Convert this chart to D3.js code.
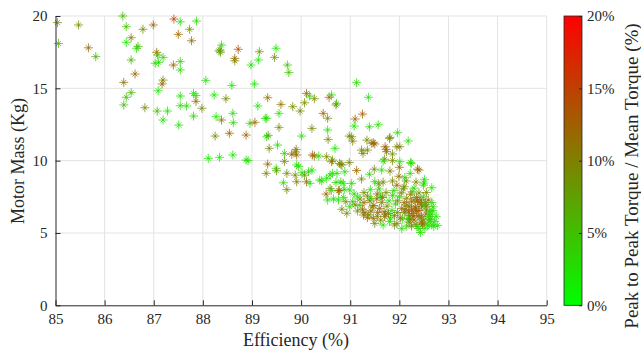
<!DOCTYPE html>
<html>
<head>
<meta charset="utf-8">
<script src="https://cdn.jsdelivr.net/npm/d3@7"></script>
<style>
  html, body { margin: 0; padding: 0; background: #fff; }
  svg text { font-family: "Liberation Serif", "DejaVu Serif", serif; fill: #262626; }
</style>
</head>
<body>
<div id="chart"></div>
<script>
// efficiency (%), motor mass (kg), torque ripple (%)
const efficiency = [
  85.04, 85.06, 85.47, 85.67, 85.82, 86.37, 86.44, 86.44, 86.54, 86.54,
  86.65, 86.68, 86.62, 86.39, 86.44, 86.54, 86.39, 86.82, 86.78, 86.99,
  87.06, 87.08, 87.03, 87.10, 87.19, 87.19, 87.17, 87.09, 87.07, 87.28,
  87.19, 87.40, 87.41, 87.50, 87.54, 87.54, 87.54, 87.54, 87.54, 87.51,
  87.67, 87.73, 87.77, 87.81, 87.86, 87.86, 87.81, 87.87, 87.98, 88.06,
  88.38, 88.35, 88.36, 88.33, 88.72, 88.65, 88.65, 89.15, 89.49, 89.46,
  89.13, 88.98, 89.72, 89.75, 88.59, 89.05, 88.23, 88.47, 88.27, 88.38,
  88.61, 88.62, 88.25, 88.54, 88.88, 88.96, 89.06, 89.12, 89.32, 89.27,
  89.30, 89.55, 89.59, 89.55, 89.30, 89.33, 89.52, 89.35, 89.83, 89.98,
  90.07, 90.11, 90.17, 90.27, 90.01, 90.22, 89.90, 89.88, 90.57, 90.62,
  90.72, 90.71, 91.13, 91.37, 90.45, 90.54, 91.25, 91.10, 91.08, 91.39,
  91.57, 90.54, 90.55, 90.69, 91.03, 91.05, 91.34, 91.44, 91.50, 91.71,
  91.81, 91.96, 92.18, 91.74, 91.86, 92.01, 92.24, 91.70,
  88.34, 88.11, 88.61, 88.88, 88.92, 89.66, 89.66, 89.81, 89.91, 90.23,
  90.27, 90.36, 90.52, 90.64, 90.78, 90.83, 89.32, 89.29, 89.49, 89.50,
  89.71, 89.64, 89.71, 89.91, 89.95, 89.88, 90.02, 89.91, 90.11, 90.18,
  90.07, 90.15, 90.22, 90.38, 90.42, 90.52, 90.59, 90.73, 90.81, 90.59,
  90.51, 90.76, 90.54, 90.76, 90.86,
  91.80, 90.98, 91.47, 91.73, 91.95, 91.35, 91.23, 91.26, 91.67, 91.86,
  92.01, 92.00, 92.23, 92.37, 91.49, 91.64, 91.81, 91.13, 90.98, 90.81,
  90.62, 90.89, 91.39, 90.64, 91.99, 92.11, 92.22, 92.51, 92.66, 90.71,
  90.86, 91.03, 91.23, 91.50, 91.67, 91.86, 92.14, 92.34, 92.49, 90.62,
  90.78, 90.88, 90.99, 91.08, 91.28, 91.41, 91.59, 91.73, 91.89, 92.04,
  92.23, 92.40, 92.49, 92.59, 90.66, 90.91, 91.05, 91.20, 91.28, 91.40,
  91.54, 91.64, 91.79, 91.96, 92.10, 92.25, 92.37, 92.53, 92.66, 92.75,
  92.78, 92.66, 92.43, 92.52, 91.56, 91.69, 91.42, 91.35, 91.62, 91.82,
  91.67, 91.96, 92.06, 92.19, 92.28, 92.35, 92.45, 92.54, 92.61, 92.34,
  92.25, 92.15, 91.95, 91.15, 90.99, 90.83, 90.93, 91.25, 91.27, 91.47,
  91.50, 92.47, 92.62, 92.69, 92.32, 92.15, 92.46, 92.40,
  91.45, 91.60, 91.75, 91.85, 92.05, 92.20, 92.40, 92.55, 92.65, 92.50,
  92.30, 92.40, 92.60, 92.70, 92.20, 92.10, 91.90, 91.80, 91.70, 91.55,
  91.30, 91.20, 91.10, 92.35, 92.55, 92.30, 92.10, 91.95, 91.55, 91.35,
  91.15, 92.00, 92.15, 92.45, 92.25, 92.38, 92.72, 92.58, 92.45, 92.20,
  92.05, 91.90,
  92.28, 92.42, 92.33, 92.52, 92.18, 92.60, 92.36, 92.48, 92.12, 92.30,
  91.92, 91.78, 91.62, 91.48, 91.38, 92.68, 92.56, 92.44, 92.26, 91.66,
  92.08, 92.22, 92.50, 92.64, 92.40, 91.86, 91.72, 91.58, 91.42, 92.02
];
const mass = [
  19.54, 18.10, 19.38, 17.80, 17.19, 20.00, 19.26, 18.18, 18.50, 16.96,
  17.77, 17.90, 15.99, 15.41, 14.38, 14.70, 13.85, 13.66, 19.08, 19.38,
  17.49, 17.30, 16.73, 16.80, 17.14, 15.57, 15.30, 14.83, 13.43, 13.43,
  12.81, 16.61, 19.79, 18.73, 19.60, 16.85, 16.27, 14.47, 13.80, 12.46,
  13.78, 19.08, 18.29, 14.65, 14.50, 14.10, 13.08, 19.65, 13.62, 15.55,
  17.99, 17.65, 17.50, 17.58, 17.70, 17.07, 16.90, 17.53, 17.77, 17.14,
  16.96, 16.61, 16.61, 16.10, 15.20, 15.30, 14.54, 14.28, 13.04, 12.81,
  13.27, 12.62, 11.70, 11.89, 11.77, 12.58, 12.65, 13.78, 14.35, 12.93,
  12.93, 13.27, 13.89, 12.30, 11.65, 11.75, 11.08, 10.85, 13.73, 13.43,
  14.00, 14.65, 14.47, 14.28, 11.70, 12.23, 10.78, 10.60, 14.38, 14.54,
  13.96, 13.85, 15.39, 14.38, 13.27, 12.93, 13.22, 12.88, 12.39, 12.34,
  12.48, 12.12, 11.47, 10.85, 11.65, 11.35, 11.42, 11.20, 11.15, 10.96,
  11.61, 11.93, 11.36, 10.62, 10.46, 10.96, 9.81, 10.10,
  10.23, 10.16, 10.39, 10.04, 10.00, 10.50, 9.95, 10.44, 10.39, 10.39,
  10.32, 10.32, 10.27, 10.04, 9.81, 9.70, 9.76, 9.12, 9.47, 9.30,
  9.12, 8.47, 8.00, 9.70, 9.60, 9.00, 9.16, 8.54, 8.54, 8.43,
  9.00, 9.23, 9.35, 8.66, 8.60, 8.78, 9.00, 9.12, 8.54, 8.08,
  7.69, 7.92, 7.28, 7.28, 7.46,
  11.54, 11.70, 11.24, 10.78, 10.96, 10.73, 10.73, 10.50, 9.97, 10.00,
  9.93, 9.54, 9.88, 9.41, 9.41, 9.35, 9.28, 9.32, 9.87, 9.75,
  9.93, 9.23, 9.06, 9.12, 8.92, 8.82, 9.12, 8.71, 8.13, 8.49,
  8.43, 8.43, 8.73, 8.54, 8.52, 8.59, 8.59, 8.52, 8.31, 7.95,
  7.93, 8.02, 7.97, 7.70, 7.79, 7.99, 8.04, 7.79, 7.93, 7.77,
  7.68, 7.77, 7.50, 7.28, 7.36, 7.16, 7.16, 7.35, 7.10, 7.22,
  7.35, 7.10, 7.22, 7.22, 7.10, 7.16, 7.22, 7.10, 7.10, 6.15,
  5.52, 5.57, 5.03, 5.32, 6.41, 6.47, 6.52, 6.06, 5.89, 6.03,
  5.55, 6.41, 5.95, 6.47, 6.15, 6.52, 6.15, 6.31, 5.97, 5.60,
  5.48, 5.48, 5.66, 6.52, 6.81, 6.64, 6.36, 6.64, 6.24, 6.01,
  5.66, 5.57, 6.47, 6.81, 6.79, 6.93, 6.81, 9.35,
  6.80, 6.70, 6.85, 6.55, 6.70, 6.85, 6.55, 6.60, 6.30, 5.90,
  5.90, 5.30, 5.75, 5.45, 6.20, 6.40, 6.20, 5.80, 6.15, 6.15,
  6.40, 6.90, 6.95, 7.45, 7.80, 8.10, 8.20, 8.30, 7.70, 7.55,
  7.50, 7.50, 7.40, 6.95, 6.60, 6.20, 5.80, 5.50, 5.75, 5.75,
  5.30, 5.55,
  6.35, 6.05, 6.70, 6.95, 6.00, 6.15, 5.45, 5.65, 6.60, 7.30,
  7.00, 6.35, 7.55, 6.90, 6.25, 6.55, 6.85, 7.30, 7.85, 7.45,
  8.05, 5.95, 8.45, 5.95, 7.10, 7.60, 6.30, 8.40, 7.40, 6.05
];
const ripple = [
  9, 6, 9, 12, 6, 5, 5, 2, 10, 6,
  3, 5, 12, 11, 5, 5, 5, 9, 9, 12,
  11, 5, 2, 3, 3, 9, 12, 2, 5, 2,
  2, 12, 15, 12, 2, 3, 3, 2, 2, 2,
  3, 9, 11, 2, 3, 12, 3, 3, 9, 2,
  3, 9, 8, 6, 14, 12, 10, 8, 2, 9,
  2, 2, 5, 5, 2, 2, 2, 9, 2, 11,
  2, 3, 9, 12, 12, 3, 12, 2, 11, 2,
  3, 2, 11, 9, 2, 8, 3, 9, 9, 9,
  9, 12, 3, 9, 2, 9, 11, 9, 13, 3,
  2, 9, 3, 2, 12, 9, 13, 12, 2, 3,
  3, 2, 9, 2, 9, 10, 9, 11, 12, 13,
  9, 2, 3, 10, 9, 9, 3, 9,
  2, 2, 2, 2, 3, 3, 9, 12, 12, 13,
  12, 3, 9, 8, 9, 10, 12, 10, 2, 8,
  9, 3, 9, 2, 3, 9, 2, 10, 12, 2,
  8, 3, 2, 2, 3, 2, 3, 2, 3, 9,
  12, 12, 2, 3, 2,
  9, 9, 12, 12, 10, 9, 9, 10, 2, 9,
  2, 12, 3, 11, 9, 2, 10, 12, 9, 9,
  12, 2, 3, 2, 11, 2, 3, 2, 2, 3,
  2, 3, 9, 3, 9, 10, 9, 10, 3, 2,
  12, 3, 2, 3, 9, 2, 3, 9, 3, 10,
  12, 9, 3, 11, 2, 9, 3, 9, 12, 12,
  12, 10, 3, 9, 12, 13, 12, 10, 3, 2,
  2, 3, 3, 2, 12, 10, 12, 12, 10, 3,
  2, 9, 3, 12, 13, 12, 12, 12, 3, 10,
  12, 3, 9, 9, 2, 9, 9, 12, 10, 12,
  9, 12, 3, 2, 12, 10, 9, 12,
  9, 12, 9, 3, 12, 10, 13, 9, 2, 10,
  12, 3, 2, 2, 12, 9, 10, 3, 12, 9,
  12, 3, 9, 12, 9, 3, 9, 12, 12, 9,
  2, 3, 10, 11, 14, 13, 2, 3, 12, 11,
  3, 9,
  12, 9, 11, 5, 3, 4, 3, 10, 12, 9,
  4, 10, 3, 12, 9, 3, 9, 11, 4, 12,
  9, 11, 3, 4, 12, 3, 10, 9, 4, 11
];

const xTicks = [85, 86, 87, 88, 89, 90, 91, 92, 93, 94, 95];
const yTicks = [0, 5, 10, 15, 20];
const cTicks = [0, 5, 10, 15, 20];

const W = 641, H = 354;
const plot = { left: 55.5, right: 546.7, top: 16, bottom: 305.3 };
const bar = { left: 564, right: 582 };

const svg = d3.select('#chart').append('svg')
  .attr('width', W)
  .attr('height', H);

const x = d3.scaleLinear().domain([85, 95]).range([plot.left, plot.right]);
const y = d3.scaleLinear().domain([0, 20]).range([plot.bottom, plot.top]);
const c = d3.scaleLinear().domain([0, 20]).range(['#00ff00', '#ff0000'])
  .interpolate(d3.interpolateRgb);

// grid
const grid = svg.append('g').attr('stroke', '#e3e3e3').attr('stroke-width', 1);
grid.selectAll('.gx').data(xTicks.slice(1)).enter().append('line')
  .attr('x1', (d) => x(d)).attr('x2', (d) => x(d))
  .attr('y1', plot.top).attr('y2', plot.bottom);
grid.selectAll('.gy').data(yTicks.slice(1)).enter().append('line')
  .attr('x1', plot.left).attr('x2', plot.right)
  .attr('y1', (d) => y(d)).attr('y2', (d) => y(d));

// markers (asterisk, plus arms longer than the diagonals)
const star = 'M-4.5,0H4.5M0,-4.5V4.5M-2.5,-2.5L2.5,2.5M-2.5,2.5L2.5,-2.5';
svg.append('g')
  .selectAll('path')
  .data(efficiency.map((e, i) => [e, mass[i], ripple[i]]))
  .enter()
  .append('path')
  .attr('d', star)
  .attr('transform', (d) => `translate(${x(d[0])},${y(d[1])})`)
  .attr('fill', 'none')
  .attr('stroke', (d) => c(d[2]))
  .attr('stroke-opacity', 0.75)
  .attr('stroke-width', 1);

// axes
svg.append('g')
  .attr('transform', `translate(0,${plot.bottom})`)
  .call(d3.axisBottom(x).tickValues(xTicks).tickSize(-5).tickSizeOuter(0).tickPadding(8))
  .call((g) => g.selectAll('line,path').attr('stroke', '#262626'))
  .call((g) => g.selectAll('text').style('font-size', '15px').attr('fill', '#262626'));

svg.append('g')
  .attr('transform', `translate(${plot.left},0)`)
  .call(d3.axisLeft(y).tickValues(yTicks).tickSize(-5).tickSizeOuter(0).tickPadding(8))
  .call((g) => g.selectAll('line,path').attr('stroke', '#262626'))
  .call((g) => g.selectAll('text').style('font-size', '15px').attr('fill', '#262626'));

svg.append('text')
  .attr('x', 296)
  .attr('y', 346)
  .attr('text-anchor', 'middle')
  .style('font-size', '18px')
  .text('Efficiency (%)');

svg.append('text')
  .attr('transform', `translate(24,161) rotate(-90)`)
  .attr('text-anchor', 'middle')
  .style('font-size', '18px')
  .text('Motor Mass (Kg)');

// colorbar
const defs = svg.append('defs');
const grad = defs.append('linearGradient')
  .attr('id', 'cbar')
  .attr('x1', 0).attr('y1', 1).attr('x2', 0).attr('y2', 0);
grad.selectAll('stop').data(cTicks).enter().append('stop')
  .attr('offset', (d) => d / 20)
  .attr('stop-color', (d) => c(d));

const cy = d3.scaleLinear().domain([0, 20]).range([plot.bottom, plot.top]);
svg.append('rect')
  .attr('x', bar.left).attr('y', plot.top)
  .attr('width', bar.right - bar.left).attr('height', plot.bottom - plot.top)
  .attr('fill', 'url(#cbar)')
  .attr('stroke', '#262626')
  .attr('stroke-width', 0.8);

svg.append('g')
  .attr('transform', `translate(${bar.right},0)`)
  .call(d3.axisRight(cy).tickValues(cTicks).tickSize(-3).tickSizeOuter(0).tickPadding(5)
    .tickFormat((d) => d + '%'))
  .call((g) => g.select('.domain').remove())
  .call((g) => g.selectAll('line').attr('stroke', '#262626'))
  .call((g) => g.selectAll('text').style('font-size', '15px').attr('fill', '#262626'));

svg.append('text')
  .attr('transform', `translate(631,176) rotate(-90)`)
  .attr('text-anchor', 'middle')
  .attr('dy', '0.35em')
  .style('font-size', '19px')
  .text('Peak to Peak Torque / Mean Torque (%)');
</script>
</body>
</html>
